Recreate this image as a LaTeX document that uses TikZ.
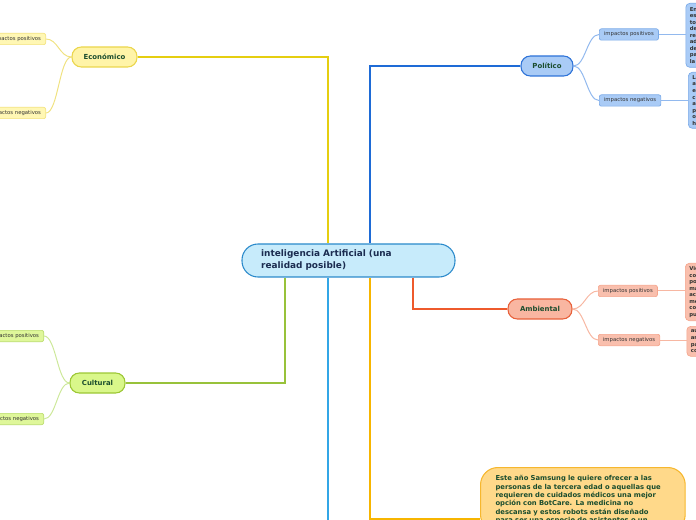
\documentclass[tikz,border=0pt]{standalone}
\usepackage{fontspec}
\setmainfont{DejaVu Sans}
\usepackage{tikz}
\usetikzlibrary{calc,positioning}
\definecolor{iaFill}{RGB}{199, 235, 251}
\definecolor{iaLine}{RGB}{43, 138, 203}
\definecolor{iaText}{RGB}{27, 44, 80}
\definecolor{topicText}{RGB}{27, 77, 46}
\definecolor{subText}{RGB}{51, 51, 51}
\definecolor{ecoFill}{RGB}{255, 244, 168}
\definecolor{ecoLine}{RGB}{235, 214, 76}
\definecolor{ecoSubFill}{RGB}{255, 247, 180}
\definecolor{ecoSubLine}{RGB}{243, 226, 122}
\definecolor{ecoLink}{RGB}{240, 226, 130}
\definecolor{ecoMain}{RGB}{229, 206, 16}
\definecolor{polFill}{RGB}{169, 203, 246}
\definecolor{polLine}{RGB}{46, 115, 216}
\definecolor{polSubLine}{RGB}{122, 170, 232}
\definecolor{polLink}{RGB}{146, 185, 238}
\definecolor{polMain}{RGB}{30, 107, 214}
\definecolor{ambFill}{RGB}{249, 182, 161}
\definecolor{ambLine}{RGB}{232, 96, 58}
\definecolor{ambSubFill}{RGB}{249, 191, 173}
\definecolor{ambSubLine}{RGB}{245, 165, 140}
\definecolor{ambLink}{RGB}{247, 183, 162}
\definecolor{ambMain}{RGB}{238, 90, 44}
\definecolor{culFill}{RGB}{217, 247, 138}
\definecolor{culLine}{RGB}{156, 199, 52}
\definecolor{culSubFill}{RGB}{223, 247, 154}
\definecolor{culSubLine}{RGB}{185, 219, 104}
\definecolor{culLink}{RGB}{205, 232, 154}
\definecolor{culMain}{RGB}{152, 194, 58}
\definecolor{botFill}{RGB}{255, 217, 138}
\definecolor{botLine}{RGB}{246, 183, 46}
\definecolor{botMain}{RGB}{247, 181, 0}
\definecolor{lbMain}{RGB}{51, 166, 230}

\begin{document}
\begin{tikzpicture}[x=0.75pt, y=-0.75pt,
    topic/.style={draw, line width=0.8pt, rounded corners=7pt, minimum height=15pt, inner xsep=0pt, font=\fontsize{5.2}{6}\bfseries, text=topicText},
    sub/.style={draw, line width=0.5pt, rounded corners=1.5pt, minimum height=8.5pt, inner xsep=3.5pt, inner ysep=0pt, font=\fontsize{4}{5}\selectfont, text=subText},
    leaf/.style={draw, line width=0.5pt, rounded corners=3pt, anchor=north west, align=left, text width=60pt, inner xsep=3pt, inner ysep=1.5pt, font=\fontsize{4}{4.9}\bfseries, text=subText},
    link/.style={line width=0.75pt},
    main/.style={line width=1.4pt}]
            \useasboundingbox (0,0) rectangle (696,520);

            % Central idea
            \node[draw=iaLine, fill=iaFill, line width=0.8pt, rounded corners=12pt, minimum width=159.75pt, minimum height=24.75pt, text width=131pt, inner xsep=14.25pt, align=left, font=\fontsize{6.7}{9}\bfseries, text=iaText] (ia) at (348.5,260.5) {inteligencia Artificial (una\\realidad posible)};

            % Main topics
            \node[topic, draw=ecoLine, fill=ecoFill, minimum width=48.75pt] (eco) at (104.5,57) {Económico};
            \node[topic, draw=polLine, fill=polFill, minimum width=39pt] (pol) at (547,66) {Político};
            \node[topic, draw=ambLine, fill=ambFill, minimum width=48pt] (amb) at (540,309) {Ambiental};
            \node[topic, draw=culLine, fill=culFill, minimum width=41.25pt] (cul) at (97.5,383) {Cultural};

            % Impacts
            \node[sub, draw=ecoSubLine, fill=ecoSubFill, anchor=east] (ecoPos) at (46,39) {impactos positivos};
            \node[sub, draw=ecoSubLine, fill=ecoSubFill, anchor=east] (ecoNeg) at (46,113) {impactos negativos};
            \node[sub, draw=polSubLine, fill=polFill, anchor=west] (polPos) at (599,34.5) {impactos positivos};
            \node[sub, draw=polSubLine, fill=polFill, anchor=west] (polNeg) at (599,100.5) {impactos negativos};
            \node[sub, draw=ambSubLine, fill=ambSubFill, anchor=west] (ambPos) at (598,291) {impactos positivos};
            \node[sub, draw=ambSubLine, fill=ambSubFill, anchor=west] (ambNeg) at (598,340) {impactos negativos};
            \node[sub, draw=culSubLine, fill=culSubFill, anchor=east] (culPos) at (44,336) {impactos positivos};
            \node[sub, draw=culSubLine, fill=culSubFill, anchor=east] (culNeg) at (44,419) {impactos negativos};

            % Details (cut by the right edge)
            \node[leaf, draw=polSubLine, fill=polFill, minimum height=48pt] (polPosTxt) at (685.5,3) {En\\es\\to\\de\\re\\ad\\de\\pa\\la};
            \node[leaf, draw=polSubLine, fill=polFill, minimum height=42pt] (polNegTxt) at (688,72) {La\\a\\el\\cr\\al\\p\\o\\h};
            \node[leaf, draw=ambSubLine, fill=ambSubFill, minimum height=43pt] (ambPosTxt) at (685,263) {Vie\\con\\po\\ma\\aca\\mé\\con\\pu};
            \node[leaf, draw=ambSubLine, fill=ambSubFill, minimum height=22.5pt] (ambNegTxt) at (686.5,326) {au\\ar\\pa\\co};

            % BotCare box (cut by the bottom edge)
            \node[draw=botLine, fill=botFill, line width=0.8pt, rounded corners=13pt, anchor=north west, text width=131pt, inner xsep=11.25pt, inner ysep=6pt, align=left, font=\fontsize{5.1}{6.25}\bfseries, text=topicText] (bot) at (480,467) {Este año Samsung le quiere ofrecer a las\\personas de la tercera edad o aquellas que\\requieren de cuidados médicos una mejor\\opción con BotCare. La medicina no\\descansa y estos robots están diseñado\\para ser una especie de asistentes o un};

            % Branch columns
            \coordinate (colY) at (328,0);
            \coordinate (colB) at (370,0);
            \coordinate (colG) at (285,0);
            \coordinate (colR) at (413,0);
            \coordinate (lbEnd) at (328,540);
            \coordinate (botIn) at (480,519);

            % Main branches
            \draw[main, ecoMain] (eco.east) -| (ia.north -| colY);
            \draw[main, polMain] (pol.west) -| (ia.north -| colB);
            \draw[main, culMain] (ia.south -| colG) |- (cul.east);
            \draw[main, lbMain] (ia.south -| colY) -- (lbEnd);
            \draw[main, botMain] (ia.south -| colB) |- (botIn);
            \draw[main, ambMain] (ia.south -| colR) |- (amb.west);

            % Sub branches
            \draw[link, ecoLink] (eco.west) .. controls +(-12,0) and +(12,0) .. (ecoPos.east);
            \draw[link, ecoLink] (eco.west) .. controls +(-12,0) and +(12,0) .. (ecoNeg.east);
            \draw[link, polLink] (pol.east) .. controls +(12,0) and +(-12,0) .. (polPos.west);
            \draw[link, polLink] (pol.east) .. controls +(12,0) and +(-12,0) .. (polNeg.west);
            \draw[link, ambLink] (amb.east) .. controls +(12,0) and +(-12,0) .. (ambPos.west);
            \draw[link, ambLink] (amb.east) .. controls +(12,0) and +(-12,0) .. (ambNeg.west);
            \draw[link, culLink] (cul.west) .. controls +(-12,0) and +(12,0) .. (culPos.east);
            \draw[link, culLink] (cul.west) .. controls +(-12,0) and +(12,0) .. (culNeg.east);
            \draw[link, polLink] (polPos.east) -- (polPos.east -| polPosTxt.west);
            \draw[link, polLink] (polNeg.east) -- (polNeg.east -| polNegTxt.west);
            \draw[link, ambLink] (ambPos.east) -- (ambPos.east -| ambPosTxt.west);
            \draw[link, ambLink] (ambNeg.east) -- (ambNeg.east -| ambNegTxt.west);
        \end{tikzpicture}
\end{document}
